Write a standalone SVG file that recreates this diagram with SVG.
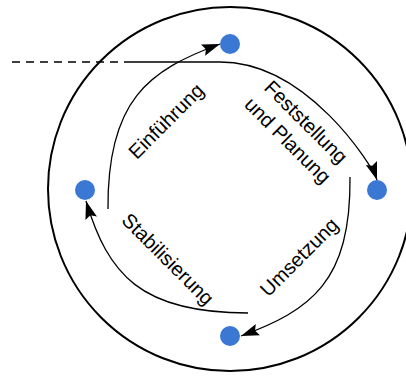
<svg xmlns="http://www.w3.org/2000/svg" width="406" height="376" viewBox="0 0 406 376">
  <style>
    .dot { fill: #3a78d4; }
    .ring { fill: none; stroke: #000; stroke-width: 2; }
    .edge { fill: none; stroke: #000; stroke-width: 1.3; }
    .dash { fill: none; stroke: #000; stroke-width: 1.3; stroke-dasharray: 8 6; }
    .lbl { font-family: "Liberation Sans", Arial, sans-serif; font-size: 20px; fill: #000; text-anchor: middle; }
  </style>
  <defs>
    <marker id="arrow" viewBox="0 0 18 12" refX="18" refY="6" markerWidth="18" markerHeight="12" markerUnits="userSpaceOnUse" orient="auto">
      <path d="M0,0 L18,6 L0,12 L3,6 z" fill="#000"/>
    </marker>
  </defs>
  <rect width="406" height="376" fill="#fff"/>
  <g id="outer-circle">
    <circle class="ring" cx="230" cy="189" r="182"/>
  </g>
  <g id="connectors">
    <path class="dash" d="M12,62 H130"/>
    <path class="edge" d="M130,62 H220 C307,62 372,165 377,180" marker-end="url(#arrow)"/>
    <path class="edge" d="M350,177 C351,282 311,310 241,336" marker-end="url(#arrow)"/>
    <path class="edge" d="M248,313 C140,313 108,274 86,201" marker-end="url(#arrow)"/>
    <path class="edge" d="M108,209 C107,100 149,70 220,44" marker-end="url(#arrow)"/>
  </g>
  <g id="labels">
    <text class="lbl" transform="rotate(-45 166 121)" x="166" y="128">Einführung</text>
    <text class="lbl" transform="rotate(45 297 131)" x="297" y="125">Feststellung<tspan x="297" y="151">und Planung</tspan></text>
    <text class="lbl" transform="rotate(-45 299 257)" x="299" y="264">Umsetzung</text>
    <text class="lbl" transform="rotate(45 168 259)" x="168" y="266">Stabilisierung</text>
  </g>
  <g id="node-top"><circle class="dot" cx="230" cy="44" r="10"/></g>
  <g id="node-right"><circle class="dot" cx="377" cy="190" r="10"/></g>
  <g id="node-bottom"><circle class="dot" cx="230" cy="336" r="10"/></g>
  <g id="node-left"><circle class="dot" cx="85" cy="190" r="10"/></g>
</svg>
